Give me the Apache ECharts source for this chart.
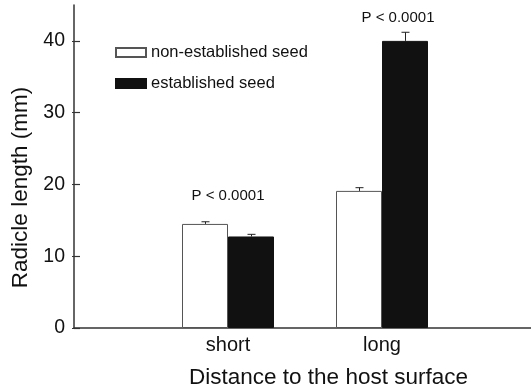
<!DOCTYPE html>
<html><head><meta charset="utf-8">
<script src="https://cdn.jsdelivr.net/npm/echarts@6/dist/echarts.min.js"></script>
<style>html,body{margin:0;padding:0;background:#fff}#c{width:531px;height:388px}</style>
</head><body><div id="c"></div>
<script>
const categories = ['', 'short', 'long', ''];
const nonEstablished = [null, 14.5, 19.1, null];
const nonEstablishedErr = [null, 0.3, 0.45, null];
const established = [null, 12.75, 40.0, null];
const establishedErr = [null, 0.3, 1.2, null];
const pLabels = [['short', 18.4, 'P < 0.0001'], ['long', 43.2, 'P < 0.0001']];
const yTicks = [0, 10, 20, 30, 40];

const FONT = 'Liberation Sans, Arial, sans-serif';
const chart = echarts.init(document.getElementById('c'));

function errSeries(vals, errs, off) {
  return {
    type: 'custom', silent: true, z: 5,
    data: vals.map((v, i) => v == null ? null : [i, v, errs[i]]).filter(d => d),
    renderItem: function (params, api) {
      const x = api.value(0), v = api.value(1), e = api.value(2);
      const p0 = api.coord([x, v]);
      const p1 = api.coord([x, v + e]);
      const cx = Math.round(p0[0] + off) + 0.5;
      return {
        type: 'group', children: [
          { type: 'line', shape: { x1: cx, y1: p0[1], x2: cx, y2: p1[1] }, style: { stroke: '#222', lineWidth: 1 } },
          { type: 'line', shape: { x1: cx - 4, y1: p1[1], x2: cx + 4, y2: p1[1] }, style: { stroke: '#222', lineWidth: 1 } }
        ]
      };
    }
  };
}

chart.setOption({
  animation: false,
  backgroundColor: '#fff',
  grid: { left: 74, width: 462, top: 5, bottom: 60, containLabel: false, outerBoundsMode: 'none' },
  legend: {
    orient: 'vertical', left: 110, top: 39, itemWidth: 30, itemHeight: 9, itemGap: 14,
    icon: 'rect',
    data: ['non-established seed', 'established seed'],
    textStyle: { fontFamily: FONT, fontSize: 16.5, color: '#111' }
  },
  xAxis: {
    type: 'category', data: categories, boundaryGap: false,
    axisLine: { lineStyle: { color: '#333', width: 1.5 } },
    axisTick: { show: false },
    axisLabel: { fontFamily: FONT, fontSize: 20, color: '#111', margin: 7, interval: 0 },
    name: 'Distance to the host surface', nameLocation: 'middle', nameGap: 38,
    nameTextStyle: { fontFamily: FONT, fontSize: 22.5, color: '#111', padding: [0, 0, 0, 47] }
  },
  yAxis: [{
    type: 'value', min: 0, max: 45, interval: 10,
    splitLine: { show: false },
    axisLine: { show: true, lineStyle: { color: '#333', width: 1.5 } },
    axisTick: { show: true, inside: false, length: 2, customValues: yTicks, lineStyle: { color: '#333', width: 1.2 } },
    axisLabel: { fontFamily: FONT, fontSize: 19.5, color: '#111', margin: 9, customValues: yTicks },
    name: 'Radicle length (mm)', nameLocation: 'middle', nameGap: 40,
    nameTextStyle: { fontFamily: FONT, fontSize: 22.5, color: '#111', padding: [0, 42, 0, 0] }
  }, {
    type: 'value', min: 0, max: 45, interval: 10, position: 'left', offset: -6,
    splitLine: { show: false },
    axisLine: { show: true, lineStyle: { color: 'rgba(0,0,0,0)', width: 1 } },
    axisLabel: { show: false },
    axisTick: { show: true, inside: false, length: 6, customValues: yTicks, lineStyle: { color: '#333', width: 1.2 } }
  }],
  series: [
    { name: 'non-established seed', type: 'bar', data: nonEstablished, barWidth: 46, barGap: '0%',
      itemStyle: { color: '#fff', borderColor: '#555', borderWidth: 1 } },
    { name: 'established seed', type: 'bar', data: established, barWidth: 46, barGap: '0%',
      itemStyle: { color: '#111', borderColor: '#111', borderWidth: 1 } },
    errSeries(nonEstablished, nonEstablishedErr, -23),
    errSeries(established, establishedErr, 23),
    { type: 'scatter', symbolSize: 0, silent: true, z: 10,
      data: pLabels.map((p, i) => ({ value: [p[0], p[1]], name: p[2],
        label: { offset: i === 1 ? [16, 0] : [0, 0] } })),
      label: { show: true, position: 'inside', formatter: p => p.name,
        fontFamily: FONT, fontSize: 15, color: '#111', opacity: 1 } }
  ]
});
</script></body></html>
